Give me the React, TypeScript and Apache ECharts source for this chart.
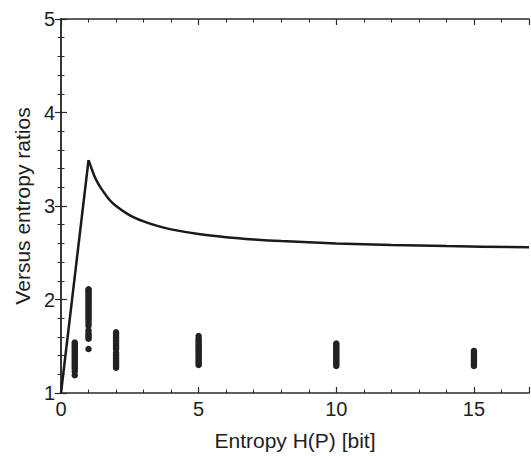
import React, { useEffect, useRef } from "react";
import * as echarts from "echarts";

// Rising part of the bound
const riseX = [0, 1];
const riseY = [1, 3.49];
// Decaying part of the bound
const curveX = [1, 1.1, 1.2, 1.35, 1.5, 1.75, 2, 2.5, 3, 3.5, 4, 5, 6, 7, 8, 10, 12, 14, 17];
const curveY = [3.49, 3.41, 3.33, 3.24, 3.17, 3.07, 3.0, 2.9, 2.835, 2.787, 2.75, 2.7, 2.667, 2.643, 2.625, 2.6, 2.583, 2.571, 2.559];

// Measured ratio clusters
const clusterX = [0.5, 1, 2, 5, 10, 15];
const clusterYs: number[][] = [
  [1.19, 1.23, 1.26, 1.28, 1.3, 1.32, 1.34, 1.36, 1.38, 1.4, 1.42, 1.44, 1.46, 1.48, 1.5, 1.52, 1.54],
  [1.47, 1.58, 1.6, 1.62, 1.64, 1.67, 1.72, 1.75, 1.78, 1.8, 1.82, 1.84, 1.86, 1.88, 1.9, 1.92, 1.94, 1.96, 1.98, 2.0, 2.02, 2.04, 2.06, 2.08, 2.1, 2.11],
  [1.27, 1.29, 1.31, 1.33, 1.35, 1.37, 1.39, 1.41, 1.43, 1.47, 1.49, 1.51, 1.53, 1.55, 1.57, 1.59, 1.61, 1.63, 1.65],
  [1.3, 1.32, 1.34, 1.36, 1.38, 1.4, 1.42, 1.44, 1.46, 1.48, 1.5, 1.52, 1.54, 1.56, 1.58, 1.61],
  [1.29, 1.31, 1.33, 1.35, 1.37, 1.39, 1.41, 1.43, 1.45, 1.47, 1.49, 1.51, 1.53],
  [1.29, 1.31, 1.33, 1.35, 1.37, 1.39, 1.41, 1.43, 1.45],
];

const FONT = "'Liberation Sans', Arial, sans-serif";
const AX = "#2a2a2a";

export default function App() {
  const ref = useRef<HTMLDivElement>(null);
  useEffect(() => {
    if (!ref.current) return;
    const chart = echarts.init(ref.current, undefined, { renderer: "svg" });
    const scatterData: number[][] = [];
    clusterX.forEach((x, i) => clusterYs[i].forEach((y) => scatterData.push([x, y])));
    const riseData = riseX.map((x, i) => [x, riseY[i]]);
    const curveData = curveX.map((x, i) => [x, curveY[i]]);

    const tickCommon = {
      axisLine: { show: true, lineStyle: { color: AX, width: 1.5 } },
      axisTick: { show: true, inside: true, length: 6, lineStyle: { color: AX, width: 1.2 } },
      minorTick: { show: true, splitNumber: 5, length: 3.5, lineStyle: { color: AX, width: 1 } },
      splitLine: { show: false },
      minorSplitLine: { show: false },
    };

    chart.setOption({
      animation: false,
      grid: { left: 61, right: 2, top: 19, bottom: 61 },
      xAxis: [
        {
          type: "value",
          min: 0,
          max: 17,
          interval: 5,
          position: "bottom",
          name: "Entropy H(P) [bit]",
          nameLocation: "middle",
          nameGap: 37,
          nameTextStyle: { fontFamily: FONT, fontSize: 21, color: "#1e1e1e" },
          axisLabel: { margin: 6, fontFamily: FONT, fontSize: 20, color: "#1e1e1e", showMaxLabel: false },
          ...tickCommon,
        },
        {
          type: "value",
          min: 0,
          max: 17,
          interval: 5,
          position: "top",
          axisLabel: { show: false },
          ...tickCommon,
        },
      ],
      yAxis: [
        {
          type: "value",
          min: 1,
          max: 5,
          interval: 1,
          position: "left",
          name: "Versus entropy ratios",
          nameLocation: "middle",
          nameGap: 26,
          nameTextStyle: { fontFamily: FONT, fontSize: 21, color: "#1e1e1e" },
          axisLabel: { margin: 6, fontFamily: FONT, fontSize: 20, color: "#1e1e1e" },
          ...tickCommon,
        },
        {
          type: "value",
          min: 1,
          max: 5,
          interval: 1,
          position: "right",
          axisLabel: { show: false },
          ...tickCommon,
        },
      ],
      series: [
        {
          type: "line",
          data: riseData,
          showSymbol: false,
          symbol: "none",
          lineStyle: { color: "#1a1a1a", width: 2.5, join: "miter" },
          z: 3,
        },
        {
          type: "line",
          data: curveData,
          showSymbol: false,
          symbol: "none",
          smooth: 0.3,
          lineStyle: { color: "#1a1a1a", width: 2.5 },
          z: 3,
        },
        {
          type: "scatter",
          data: scatterData,
          symbol: "circle",
          symbolSize: 6.5,
          itemStyle: { color: "#222", opacity: 1 },
          z: 2,
        },
      ],
    });
    return () => chart.dispose();
  }, []);
  return <div ref={ref} style={{ width: 531, height: 456, position: "absolute", left: 0, top: 0 }} />;
}
